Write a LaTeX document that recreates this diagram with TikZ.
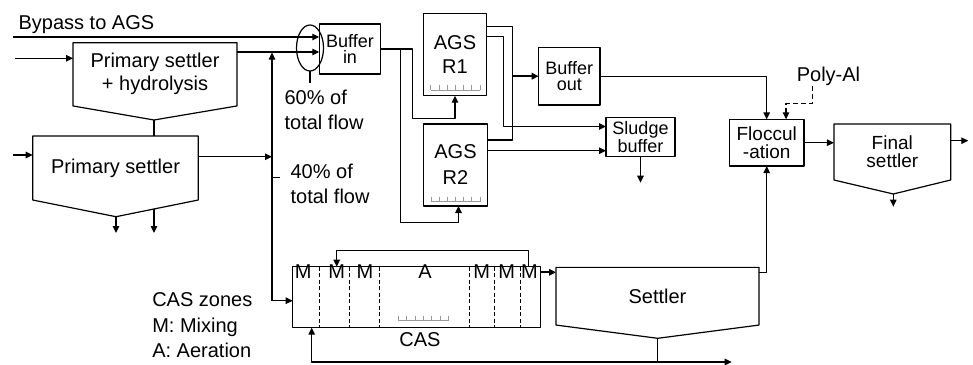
\documentclass[tikz,border=0pt]{standalone}
\usepackage{fontspec}
\setmainfont{Liberation Sans}
\usetikzlibrary{arrows.meta,shapes.geometric}
\tikzset{
  box/.style={draw, inner sep=0pt, outer sep=0pt, align=center, font=\fontsize{18}{16.5}\selectfont},
  tank/.style={inner sep=0pt, outer sep=0pt, align=center},
  bigflow/.style={line width=2.2pt},
  zone/.style={line width=.9pt, dash pattern=on 4pt off 2.5pt},
  diff/.style={gray!80, line width=.8pt},
}
% grey aerator: x1, x2, y
\newcommand\diffuser[3]{%
  \draw[diff] (#1,#3) -- (#2,#3);
  \foreach \k in {0,...,6} \draw[diff] ({#1+\k*(#2-#1)/6},#3) -- ++(0,-5);}
\begin{document}
\begin{tikzpicture}[>={Triangle[length=7pt,width=6.5pt]}, x=1pt, y=-1pt, line width=1.2pt, line join=round,
    font=\fontsize{20}{23}\selectfont]
  \useasboundingbox (0,0) rectangle (973,364);
  % settlers
  \node[tank, minimum width=164pt, minimum height=63.3pt] (psh) at (155,74.3) {Primary settler\\+ hydrolysis};
  \node[tank, minimum width=165.6pt, minimum height=64pt] (ps) at (115.5,168) {Primary settler};
  \node[tank, font=\fontsize{19}{17.8}\selectfont, minimum width=116.7pt, minimum height=56pt] (fs) at (892.3,152) {Final\\settler};
  \node[tank, minimum width=203pt, minimum height=57.7pt] (settler) at (657.5,296.2) {Settler};
  \coordinate (psh-tip) at (154,120);
  \coordinate (ps-tip) at (116,216.7);
  \coordinate (fs-tip) at (893.3,194);
  \coordinate (settler-tip) at (657.7,338.3);
  \foreach \t in {psh,ps,fs,settler}
    \draw (\t.north west) -- (\t.north east) -- (\t.south east) -- (\t-tip) -- (\t.south west) -- cycle;
  % boxes
  \node[box, minimum width=61.4pt, minimum height=50pt] (bufin) at (350,49) {Buffer\\in};
  \node[box, font=\fontsize{20}{23.3}\selectfont, minimum width=63.2pt, minimum height=82.4pt] (r1) at (455,54.5) {AGS\\R1};
  \node[box, font=\fontsize{20}{26}\selectfont, minimum width=64pt, minimum height=82pt] (r2) at (455.5,165) {AGS\\R2};
  \node[box, minimum width=61.3pt, minimum height=57.7pt] (bufout) at (569.3,76.2) {Buffer\\out};
  \node[box, minimum width=69pt, minimum height=39pt] (sludge) at (640.5,137.2) {Sludge\\buffer};
  \node[box, font=\fontsize{19}{17.8}\selectfont, minimum width=74.7pt, minimum height=46.7pt] (floc) at (766.7,142.7) {Floccul\\-ation};
  \node[box, minimum width=248pt, minimum height=61pt] (cas) at (416.7,297.2) {};
  \diffuser{430.7}{480}{90}
  \diffuser{431}{480}{201.5}
  \diffuser{398.3}{448.3}{320.7}
  % CAS zones
  \foreach \xd in {319.3,349.3,379.3,469.3,494.3,520.5}
    \draw[zone] (\xd,0 |- cas.north) -- (\xd,0 |- cas.south);
  \foreach \xl/\zl [count=\i] in {303.3/M,336.7/M,365/M,425/A,481.7/M,506.7/M,529.5/M}
    \node[anchor=base, inner sep=0pt] (zone\i) at (\xl,278.3) {\zl};
  % labels
  \node[anchor=base west, inner sep=0pt] (bypasslbl) at (18,29) {Bypass to AGS};
  \node[anchor=base west, inner sep=0pt, align=left, font=\fontsize{20}{25}\selectfont] (lbl60) at (284,129) {60\% of\\total flow};
  \node[anchor=base west, inner sep=0pt, align=left, font=\fontsize{20}{25}\selectfont] (lbl40) at (290,203.5) {40\% of\\total flow};
  \node[anchor=base west, inner sep=0pt, align=left, font=\fontsize{20}{25.5}\selectfont] (zoneslbl) at (151.7,357.7) {CAS zones\\M: Mixing\\A: Aeration};
  \node[anchor=base, inner sep=0pt] (poly) at (828.5,81.7) {Poly-Al};
  \node[anchor=base, inner sep=0pt] (caslbl) at (420,346) {CAS};
  \node[ellipse, draw, minimum width=27pt, minimum height=46pt, inner sep=0pt, outer sep=0pt] (split) at (310,48) {};
  \draw (split.south) -- ++(0,12);
  \draw (272,177.5) -- (280,177.5);
  % inflow and primary treatment
  \coordinate (bypass) at (13,37);
  \coordinate (rawin) at (15,58.3);
  \coordinate (rawin2) at (13,155);
  \coordinate (casin) at (272,300.7);
  \draw[->] (bypass) -- (bufin.west |- bypass);
  \draw[->] (rawin) -- (psh.west |- rawin);
  \draw[->] (rawin2) -- (ps.west |- rawin2);
  \draw[->] (psh.east |- 0,52) -- (bufin.west |- 0,52);
  \draw (psh-tip) -- (psh-tip |- ps.north);
  \draw[->] (ps-tip) -- ++(0,16.3);
  \draw[->] (154,209) -- (154,233);
  \draw[->] (ps.east |- 0,156.7) -- (272,156.7);
  \draw[->] (casin) -- (272,52.6);
  \draw[->] (casin) -- (cas.west |- casin);
  % AGS line
  \draw[->] (bufin.east) -- (412.3,49) -- (412.3,118.3) -| (r1.south);
  \draw[->] (400.7,49) -- (400.7,222.7) -| ([xshift=3pt]r2.south);
  \draw (r1.east |- 0,26.7) -- (512.7,26.7) -- (512.7,140) -- (r2.east |- 0,140);
  \draw[->, bigflow] (512.7,0 |- bufout.west) -- (bufout.west);
  \draw[->] (r1.east |- 0,36.7) -- (503.3,36.7) -- (503.3,126.5) -- (sludge.west |- 0,126.5);
  \draw[->] (r2.east |- 0,150.7) -- (sludge.west |- 0,150.7);
  \draw[->] (sludge.south) -- ++(0,26);
  \draw[->] (bufout.east) -| (floc.north);
  \draw[->, dash pattern=on 5pt off 3pt] (812.7,0 |- poly.south) -- (812.7,103.3) -| (786,0 |- floc.north);
  \draw[->] (floc.east) -- (fs.west |- floc.east);
  \draw[->] (fs.east |- 0,140.7) -- ++(17.6,0);
  \draw[->] (fs-tip) -- ++(0,12.7);
  % CAS line
  \coordinate (casret) at (311.7,362);
  \coordinate (wasout) at (731.7,362);
  \draw[->, bigflow] (cas.east |- 0,272.3) -- (settler.west |- 0,272.3);
  \draw[->] (settler.east |- 0,272.7) -| (floc.south);
  \draw[->] (528.3,0 |- cas.north) -- (528.3,250.7) -| (336.7,0 |- cas.north);
  \draw[->] (settler-tip) |- (wasout);
  \draw[->] (settler-tip) |- (casret) -- (casret |- cas.south);
\end{tikzpicture}
\end{document}
